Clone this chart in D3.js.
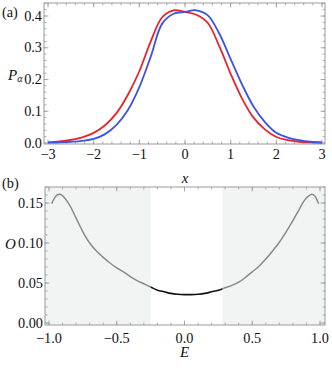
<!DOCTYPE html>
<html>
<head>
<meta charset="utf-8">
<script src="https://cdnjs.cloudflare.com/ajax/libs/d3/7.8.5/d3.min.js"></script>
<style>
  body { margin: 0; background: #fff; }
  svg { display: block; }
</style>
</head>
<body>
<div class="canvas"></div>
<script>
'use strict';

// Panel (a): probability densities
var xGrid = [-3, -2.75, -2.5, -2.25, -2, -1.75, -1.5, -1.25, -1, -0.75, -0.5, -0.25, 0,
  0.25, 0.5, 0.75, 1, 1.25, 1.5, 1.75, 2, 2.25, 2.5, 2.75, 3];
var pRed = [0.002, 0.005, 0.010, 0.018, 0.032, 0.056, 0.094, 0.152, 0.226, 0.320, 0.396, 0.418, 0.413,
  0.404, 0.378, 0.305, 0.218, 0.140, 0.080, 0.043, 0.019, 0.009, 0.004, 0.002, 0.001];
var pBlue = [0.001, 0.002, 0.004, 0.007, 0.013, 0.028, 0.057, 0.104, 0.176, 0.272, 0.376, 0.407, 0.413,
  0.418, 0.402, 0.345, 0.264, 0.184, 0.115, 0.066, 0.032, 0.017, 0.009, 0.004, 0.002];
var xTicksA = [-3, -2, -1, 0, 1, 2, 3];
var yTicksA = [0.0, 0.1, 0.2, 0.3, 0.4];

// Panel (b): O versus E
var eGrid = [-0.98, -0.96, -0.94, -0.92, -0.90, -0.85, -0.80, -0.75, -0.70, -0.65, -0.60, -0.55,
  -0.50, -0.45, -0.40, -0.35, -0.30, -0.25, -0.20, -0.15, -0.10, -0.05, 0.00, 0.05, 0.10, 0.15,
  0.20, 0.25, 0.30, 0.35, 0.40, 0.45, 0.50, 0.55, 0.60, 0.65, 0.70, 0.75, 0.80, 0.85, 0.88,
  0.91, 0.94, 0.96, 0.98, 0.99];
var oVals = [0.149, 0.156, 0.160, 0.161, 0.159, 0.148, 0.131, 0.114, 0.100, 0.090, 0.082, 0.075,
  0.069, 0.064, 0.058, 0.053, 0.049, 0.045, 0.041, 0.039, 0.037, 0.036, 0.0355, 0.0355, 0.036, 0.037,
  0.039, 0.041, 0.044, 0.047, 0.051, 0.057, 0.064, 0.071, 0.080, 0.090, 0.101, 0.114, 0.128, 0.143, 0.152,
  0.158, 0.161, 0.159, 0.153, 0.149];
var bandEdges = [-0.25, 0.28];
var xTicksB = [-1.0, -0.5, 0.0, 0.5, 1.0];
var yTicksB = [0.00, 0.05, 0.10, 0.15];

var serif = '"Liberation Serif", "Times New Roman", Times, serif';

var svg = d3.select('.canvas').append('svg').attr('width', 332).attr('height', 368)
  .attr('font-family', serif);

// Scale the serif font so that a tick label like "0.15" is ~25px wide, as in the figure
var probe = svg.append('text').attr('font-size', 14).text('0.15');
var probeW = probe.node().getComputedTextLength() || 23;
probe.remove();
var fs = Math.max(11, Math.min(15, 14 * 25 / probeW));
var fsTitle = fs * 1.05;

var frameColor = '#9a9a9a';

// Draws frame + inward ticks on all four sides (Mathematica style)
function drawFrame(g, x, y, box, xMajor, xMinor, yMajor, yMinor, xFmt, yFmt, labelGap) {
  var x0 = box[0], x1 = box[1], y0 = box[2], y1 = box[3];

  function xticks(vals, len) {
    vals.forEach(function (v) {
      var px = x(v);
      if (px < x0 - 0.5 || px > x1 + 0.5) return;
      g.append('line').attr('x1', px).attr('x2', px).attr('y1', y1).attr('y2', y1 - len)
        .attr('stroke', frameColor).attr('stroke-width', 0.8);
      g.append('line').attr('x1', px).attr('x2', px).attr('y1', y0).attr('y2', y0 + len)
        .attr('stroke', frameColor).attr('stroke-width', 0.8);
    });
  }
  function yticks(vals, len) {
    vals.forEach(function (v) {
      var py = y(v);
      if (py < y0 - 0.5 || py > y1 + 0.5) return;
      g.append('line').attr('x1', x0).attr('x2', x0 + len).attr('y1', py).attr('y2', py)
        .attr('stroke', frameColor).attr('stroke-width', 0.8);
      g.append('line').attr('x1', x1).attr('x2', x1 - len).attr('y1', py).attr('y2', py)
        .attr('stroke', frameColor).attr('stroke-width', 0.8);
    });
  }
  xticks(xMinor, 2.5);
  xticks(xMajor, 4.5);
  yticks(yMinor, 2.5);
  yticks(yMajor, 4.5);

  g.append('rect').attr('x', x0).attr('y', y0).attr('width', x1 - x0).attr('height', y1 - y0)
    .attr('fill', 'none').attr('stroke', frameColor).attr('stroke-width', 1);

  g.selectAll('.xl').data(xMajor).enter().append('text')
    .attr('x', function (d) { return x(d); })
    .attr('y', y1 + labelGap)
    .attr('text-anchor', 'middle').attr('font-size', fs).attr('fill', '#111')
    .text(xFmt);
  g.selectAll('.yl').data(yMajor).enter().append('text')
    .attr('x', x0 - 2)
    .attr('y', function (d) { return y(d) + 4.5; })
    .attr('text-anchor', 'end').attr('font-size', fs).attr('fill', '#111')
    .text(yFmt);
}

function fmtSigned(digits) {
  return function (d) {
    var s = Math.abs(d).toFixed(digits);
    return (d < 0 ? '\u2212' : '') + s;
  };
}

function range(a, b, step) {
  var out = [];
  var n = Math.round((b - a) / step);
  for (var i = 0; i <= n; i++) out.push(+(a + i * step).toFixed(6));
  return out;
}

// ---------- Panel (a) ----------
var ga = svg.append('g');
var xA = d3.scaleLinear().domain([-3, 3]).range([48, 322]);
var yA = d3.scaleLinear().domain([0, 0.4]).range([143, 16]);
var boxA = [44, 325, 3, 144];

drawFrame(ga, xA, yA, boxA, xTicksA, range(-3.2, 3.2, 0.2), yTicksA, range(0, 0.44, 0.02),
  fmtSigned(0), function (d) { return d.toFixed(1); }, 14.5);

var lineA = d3.line()
  .x(function (d) { return xA(d[0]); })
  .y(function (d) { return yA(d[1]); })
  .curve(d3.curveCatmullRom);

ga.append('path').datum(xGrid.map(function (v, i) { return [v, pRed[i]]; }))
  .attr('d', lineA).attr('fill', 'none').attr('stroke', '#e8232b').attr('stroke-width', 1.8);
ga.append('path').datum(xGrid.map(function (v, i) { return [v, pBlue[i]]; }))
  .attr('d', lineA).attr('fill', 'none').attr('stroke', '#3d52e6').attr('stroke-width', 1.8);

svg.append('text').attr('x', 2).attr('y', 17).attr('font-size', fs).attr('fill', '#111').text('(a)');
svg.append('text').attr('x', 8).attr('y', 80).attr('font-size', fsTitle).attr('font-style', 'italic')
  .attr('fill', '#111')
  .html('P<tspan font-size="' + (fs * 0.7) + '" dy="2">\u03B1</tspan>');
svg.append('text').attr('x', xA(0)).attr('y', 183).attr('text-anchor', 'middle')
  .attr('font-size', fsTitle).attr('font-style', 'italic').attr('fill', '#111').text('x');

// ---------- Panel (b) ----------
var gb = svg.append('g');
var xB = d3.scaleLinear().domain([-1, 1]).range([49, 320]);
var yB = d3.scaleLinear().domain([0, 0.15]).range([323, 203]);
var boxB = [45, 325, 187, 325];

// shaded regions outside the band
gb.append('rect').attr('x', boxB[0]).attr('y', boxB[2])
  .attr('width', xB(bandEdges[0]) - boxB[0]).attr('height', boxB[3] - boxB[2]).attr('fill', '#f2f4f4');
gb.append('rect').attr('x', xB(bandEdges[1])).attr('y', boxB[2])
  .attr('width', boxB[1] - xB(bandEdges[1])).attr('height', boxB[3] - boxB[2]).attr('fill', '#f2f4f4');

drawFrame(gb, xB, yB, boxB, xTicksB, range(-1.1, 1.1, 0.1), yTicksB, range(0, 0.17, 0.01),
  fmtSigned(1), function (d) { return d.toFixed(2); }, 17.5);

var lineB = d3.line()
  .x(function (d) { return xB(d[0]); })
  .y(function (d) { return yB(d[1]); })
  .curve(d3.curveCatmullRom);

var ptsB = eGrid.map(function (v, i) { return [v, oVals[i]]; });

// clip paths: grey outside the band, black inside
function clipRect(id, xa, xb) {
  svg.append('clipPath').attr('id', id).append('rect')
    .attr('x', xa).attr('y', boxB[2]).attr('width', xb - xa).attr('height', boxB[3] - boxB[2]);
}
clipRect('outL', boxB[0], xB(bandEdges[0]));
clipRect('band', xB(bandEdges[0]), xB(bandEdges[1]));
clipRect('outR', xB(bandEdges[1]), boxB[1]);

gb.append('path').datum(ptsB).attr('d', lineB).attr('fill', 'none').attr('clip-path', 'url(#outL)')
  .attr('stroke', '#8a8a8a').attr('stroke-width', 1.5);
gb.append('path').datum(ptsB).attr('d', lineB).attr('fill', 'none').attr('clip-path', 'url(#outR)')
  .attr('stroke', '#8a8a8a').attr('stroke-width', 1.5);
gb.append('path').datum(ptsB).attr('d', lineB).attr('fill', 'none').attr('clip-path', 'url(#band)')
  .attr('stroke', '#111').attr('stroke-width', 1.6);

svg.append('text').attr('x', 2).attr('y', 188).attr('font-size', fs).attr('fill', '#111').text('(b)');
svg.append('text').attr('x', 5).attr('y', 249).attr('font-size', fsTitle).attr('font-style', 'italic')
  .attr('fill', '#111').text('O');
svg.append('text').attr('x', xB(0)).attr('y', 357).attr('text-anchor', 'middle')
  .attr('font-size', fsTitle).attr('font-style', 'italic').attr('fill', '#111').text('E');
</script>
</body>
</html>
